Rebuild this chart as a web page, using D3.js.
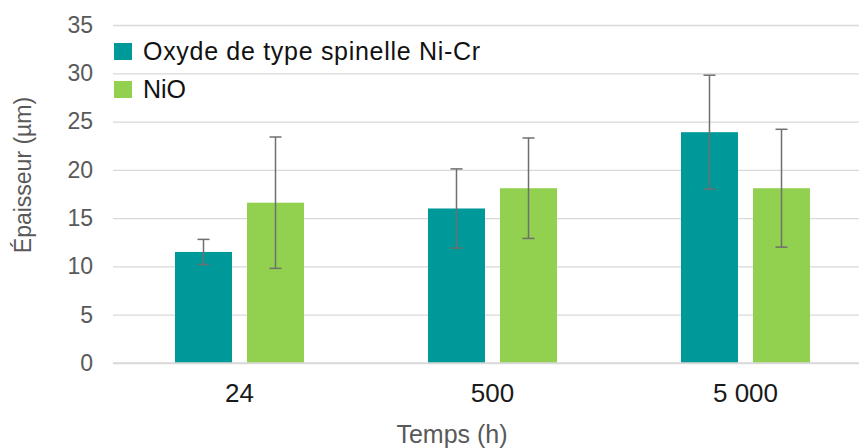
<!DOCTYPE html>
<html>
<head>
<meta charset="utf-8">
<script src="https://cdn.jsdelivr.net/npm/d3@7"></script>
<style>
  html, body { margin: 0; padding: 0; background: #fff; }
  svg { display: block; font-family: "Liberation Sans", Arial, sans-serif; }
</style>
</head>
<body>
<svg id="chart" width="859" height="448"></svg>
<script>
const categories = ["24", "500", "5 000"];
const seriesNames = ["Oxyde de type spinelle Ni-Cr", "NiO"];
const spinelValues = [11.5, 16.0, 23.9];
const spinelErrors = [1.3, 4.1, 5.9];
const nioValues = [16.6, 18.1, 18.1];
const nioErrors = [6.8, 5.2, 6.1];
const yTicks = [0, 5, 10, 15, 20, 25, 30, 35];
const colors = ["#009999", "#92D050"];
const xTitle = "Temps (h)";
const yTitle = "Épaisseur (µm)";

const svg = d3.select("#chart");
const W = 859, H = 448;
const plotLeft = 113, plotRight = 872, plotTop = 25, plotBottom = 363;

const y = d3.scaleLinear().domain([0, 35]).range([plotBottom, plotTop]);
const x = d3.scaleBand().domain(categories).range([plotLeft, plotRight]).paddingInner(0).paddingOuter(0);
const bw = x.bandwidth();
const xInner = d3.scaleBand().domain(seriesNames)
  .range([bw * 0.245, bw * 0.755]).paddingInner(15 / 72).paddingOuter(0);

const data = categories.map((c, i) => ({
  cat: c,
  vals: [
    { s: seriesNames[0], v: spinelValues[i], e: spinelErrors[i], col: colors[0] },
    { s: seriesNames[1], v: nioValues[i], e: nioErrors[i], col: colors[1] }
  ]
}));

// gridlines
const yAxis = d3.axisLeft(y).tickValues(yTicks).tickSize(-(W - plotLeft + 1)).tickPadding(20).tickFormat(d3.format("d"));
const gy = svg.append("g").attr("transform", `translate(${plotLeft},0)`).call(yAxis);
gy.select(".domain").remove();
gy.selectAll(".tick line").attr("stroke", "#d9d9d9").attr("stroke-width", 1.3);
gy.selectAll(".tick text")
  .attr("fill", "#595959")
  .attr("font-size", 23)
  .attr("font-family", "Liberation Sans, Arial, sans-serif")
  .attr("x", -20);

// bars
const groups = svg.append("g").selectAll("g").data(data).join("g")
  .attr("transform", d => `translate(${x(d.cat)},0)`);

groups.selectAll("rect").data(d => d.vals).join("rect")
  .attr("x", d => xInner(d.s))
  .attr("width", xInner.bandwidth())
  .attr("y", d => y(d.v))
  .attr("height", d => y(0) - y(d.v))
  .attr("fill", d => d.col);

// error bars
const capW = 12;
const eb = groups.selectAll("g.err").data(d => d.vals).join("g").attr("class", "err")
  .attr("stroke", "#6f6f6f").attr("stroke-width", 1.5);
eb.append("line")
  .attr("x1", d => xInner(d.s) + xInner.bandwidth() / 2)
  .attr("x2", d => xInner(d.s) + xInner.bandwidth() / 2)
  .attr("y1", d => y(d.v + d.e))
  .attr("y2", d => y(d.v - d.e));
eb.append("line")
  .attr("x1", d => xInner(d.s) + xInner.bandwidth() / 2 - capW / 2)
  .attr("x2", d => xInner(d.s) + xInner.bandwidth() / 2 + capW / 2)
  .attr("y1", d => y(d.v + d.e)).attr("y2", d => y(d.v + d.e));
eb.append("line")
  .attr("x1", d => xInner(d.s) + xInner.bandwidth() / 2 - capW / 2)
  .attr("x2", d => xInner(d.s) + xInner.bandwidth() / 2 + capW / 2)
  .attr("y1", d => y(d.v - d.e)).attr("y2", d => y(d.v - d.e));

// x axis
const xAxis = d3.axisBottom(x).tickSize(0).tickPadding(21);
const gx = svg.append("g").attr("transform", `translate(0,${plotBottom})`).call(xAxis);
gx.select(".domain").remove();
svg.append("line").attr("x1", plotLeft).attr("x2", W).attr("y1", plotBottom).attr("y2", plotBottom)
  .attr("stroke", "#d9d9d9").attr("stroke-width", 1.3);
gx.selectAll(".tick text")
  .attr("fill", "#1a1a1a")
  .attr("font-size", 26)
  .attr("font-family", "Liberation Sans, Arial, sans-serif");

// axis titles
svg.append("text").attr("x", 452).attr("y", 443).attr("text-anchor", "middle")
  .attr("fill", "#595959").attr("font-size", 25).text(xTitle);
svg.append("text").attr("transform", "translate(31,175) rotate(-90)").attr("text-anchor", "middle")
  .attr("fill", "#595959").attr("font-size", 23).text(yTitle);

// legend
const leg = svg.append("g").selectAll("g").data(seriesNames).join("g")
  .attr("transform", (d, i) => `translate(114,${43 + i * 38})`);
leg.append("rect").attr("width", 18).attr("height", 17).attr("fill", (d, i) => colors[i]);
leg.append("text").attr("x", 29).attr("y", 17).attr("font-size", 25).attr("fill", "#111")
  .attr("textLength", (d, i) => i === 0 ? 337 : null)
  .attr("lengthAdjust", "spacing")
  .text(d => d);
</script>
</body>
</html>
